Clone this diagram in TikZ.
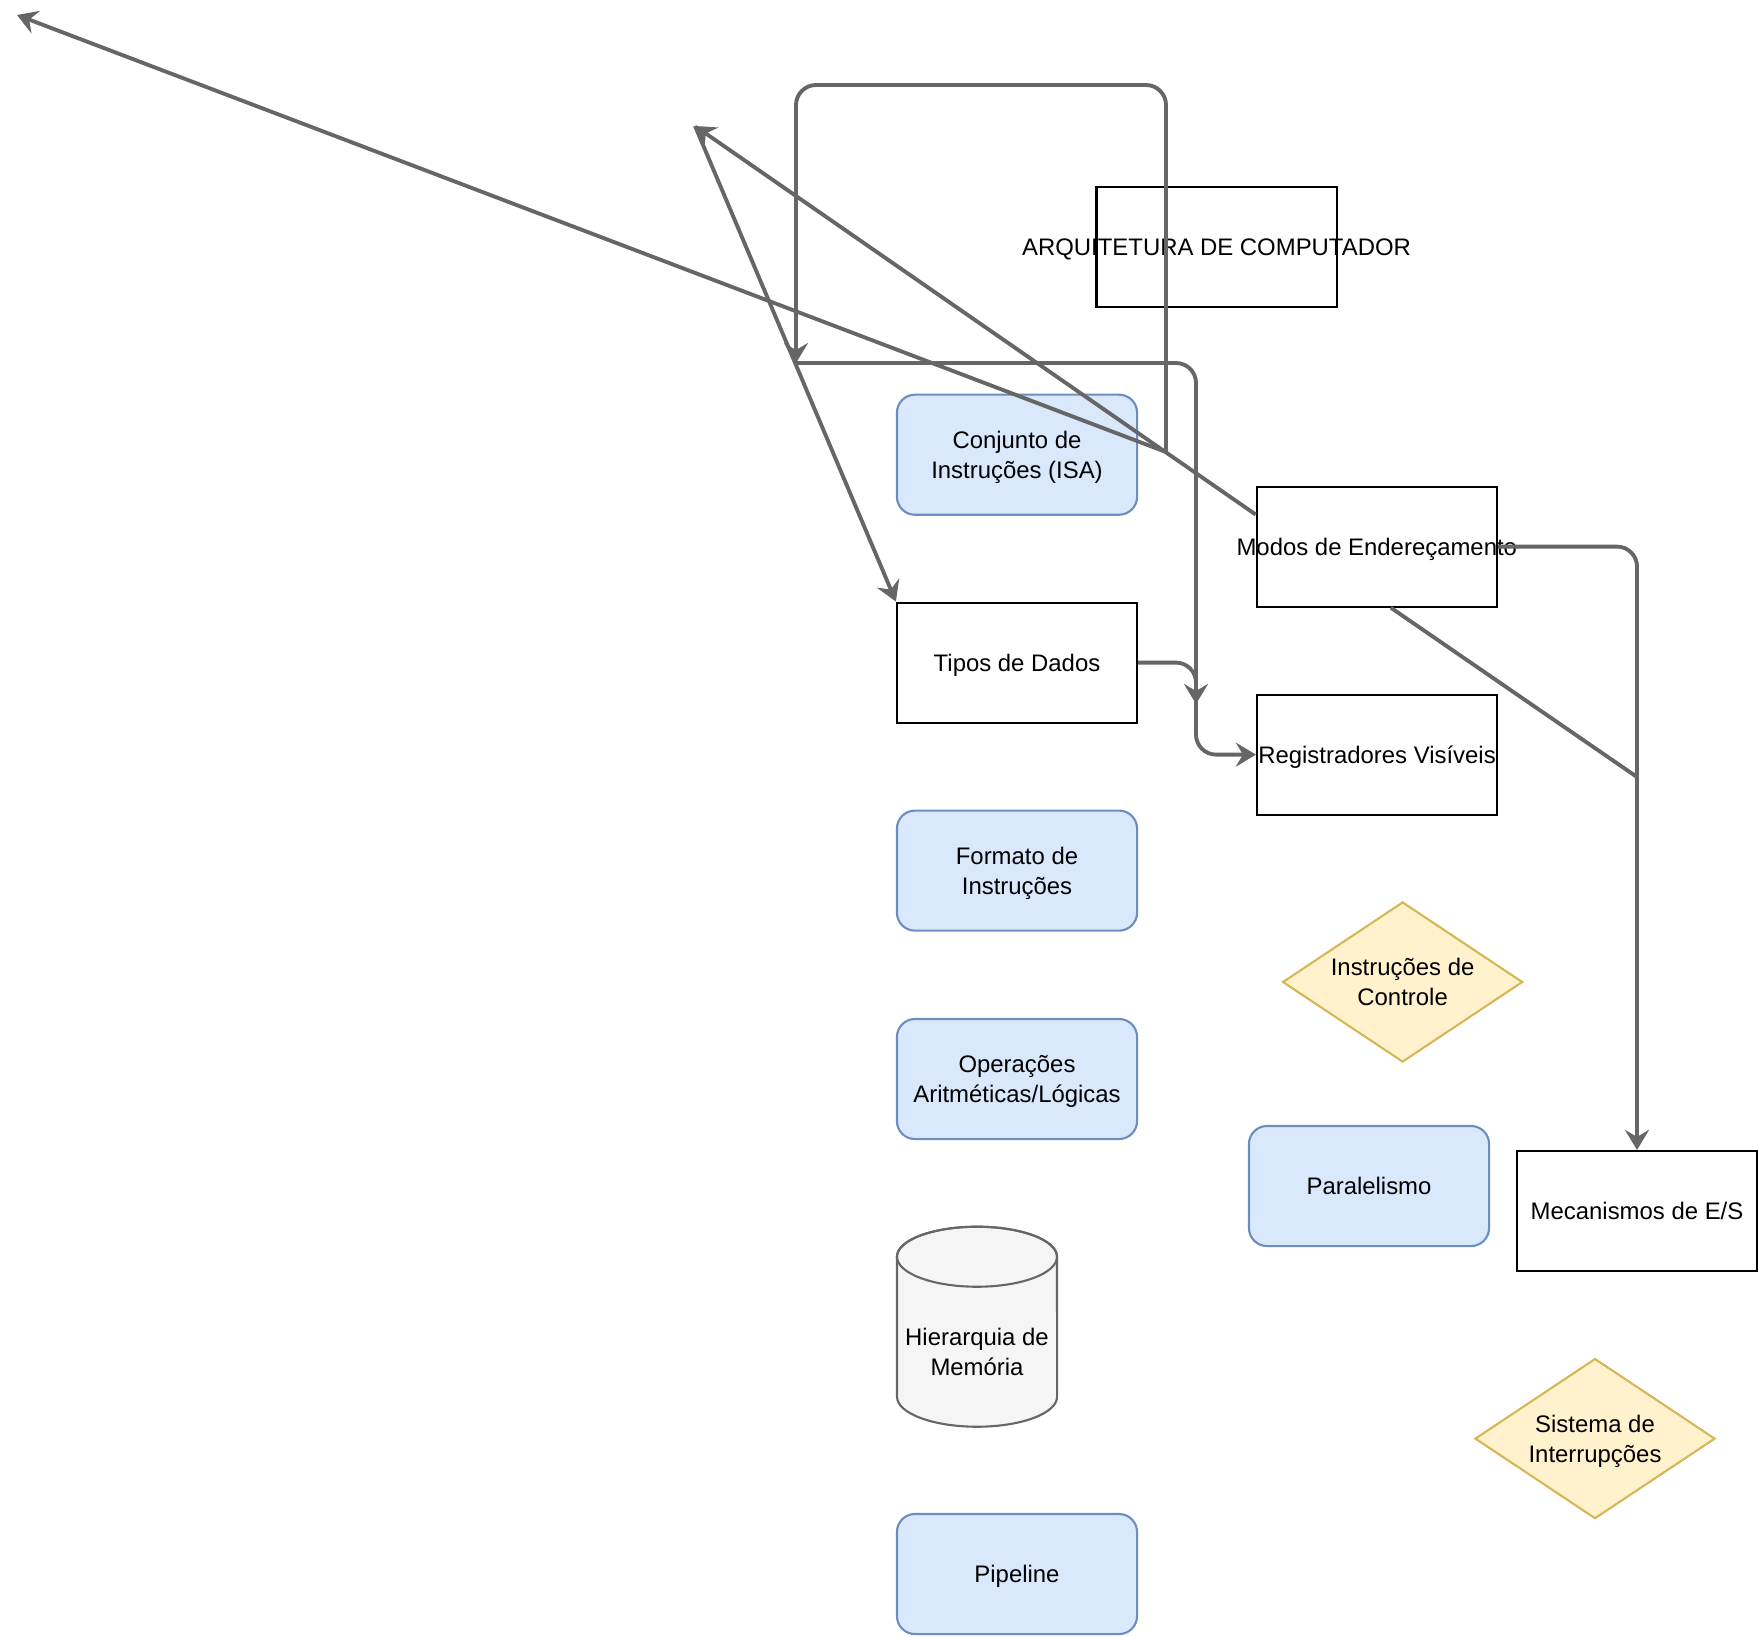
\documentclass[tikz,border=0pt]{standalone}
\usepackage{fontspec}
\setmainfont{Liberation Sans}
\usepackage{xcolor}
\usepackage{tikz}
\usetikzlibrary{shapes, shapes.geometric, arrows.meta, positioning}
\definecolor{azulfundo}{HTML}{DAE8FC}
\definecolor{azulborda}{HTML}{6C8EBF}
\definecolor{amarelofundo}{HTML}{FFF2CC}
\definecolor{amareloborda}{HTML}{D6B656}
\definecolor{cinzafundo}{HTML}{F5F5F5}
\definecolor{cinza}{HTML}{666666}

\begin{document}
\begin{tikzpicture}[x=0.01cm, y=-0.01cm,
        every node/.style={font=\fontsize{6.8}{8.4}\selectfont, align=center, inner sep=0pt, text depth=0pt},
        caixa/.style={draw=black, line width=0.6pt, minimum width=2.4cm, minimum height=1.2cm},
        azul/.style={draw=azulborda, fill=azulfundo, line width=0.6pt, rounded corners=0.18cm, minimum width=2.4cm, minimum height=1.2cm},
        losango/.style={diamond, aspect=1.5, draw=amareloborda, fill=amarelofundo, line width=0.6pt, minimum width=2.4cm, minimum height=1.6cm},
        seta/.style={draw=cinza, line width=1.1pt, rounded corners=0.2cm, -{Stealth[length=0.2cm, width=0.24cm, inset=0.07cm]}},
        linha/.style={draw=cinza, line width=1.1pt}]
        \useasboundingbox (0,0) rectangle (1758,1636);
        % Blocs
        \node[caixa, label={center:ARQUITETURA DE COMPUTADOR}] (arq) at (1216.5,246.7) {};
        \node[azul] (conjunto) at (1017,454.7) {Conjunto de\\Instruções (ISA)};
        \node[caixa] (tipos) at (1017,662.6) {Tipos de Dados};
        \node[caixa, label={center:Modos de Endereçamento}] (modos) at (1376.8,546.6) {};
        \node[caixa, label={center:Registradores Visíveis}] (reg) at (1377,754.6) {};
        \node[azul] (formato) at (1017,870.6) {Formato de\\Instruções};
        \node[losango] (controle) at (1402.6,982) {Instruções de\\Controle};
        \node[azul] (operacoes) at (1017,1079) {Operações\\Aritméticas/Lógicas};
        \node[azul] (paralelismo) at (1369,1186) {Paralelismo};
        \node[caixa] (mec) at (1637,1211) {Mecanismos de E/S};
        \node[losango] (interrup) at (1595,1438.6) {Sistema de\\Interrupções};
        \node[azul] (pipeline) at (1017,1574) {Pipeline};
        % Cylindre
        \draw[draw=cinza, fill=cinzafundo, line width=0.6pt] (897,1256.7) -- (897,1396.7)
            arc[start angle=180, end angle=360, x radius=0.8cm, y radius=0.3cm] -- (1057,1256.7)
            arc[start angle=0, end angle=180, x radius=0.8cm, y radius=0.3cm] -- cycle;
        \draw[draw=cinza, line width=0.6pt] (977,1256.7) ellipse[x radius=0.8cm, y radius=0.3cm];
        \node (memoria) at (977,1352) {Hierarquia de\\Memória};
        % Points libres
        \coordinate (J) at (1166,452);
        \coordinate (P1) at (17,15);
        \coordinate (P2) at (695,126);
        \coordinate (Q) at (796,363);
        \coordinate (R) at (1196,704);
        \coordinate (M) at (1637,777);
        % Connecteurs
        \draw[seta] (J) -- (P1);
        \draw[seta] (J) -- (1166,85) -- (796,85) -- (Q);
        \draw[seta] (Q) -- (1196,363) -- (R);
        \draw[seta] ([yshift=-0.29cm]modos.north west) -- (P2);
        \draw[seta] (P2) -- (tipos.north west);
        \draw[seta] (tipos.east) -- (1196,662.6) -- (1196,754.6) -- (reg.west);
        \draw[seta] (modos.east) -| (mec.north);
        \draw[linha] ([xshift=0.14cm]modos.south) -- (M);
\end{tikzpicture}
\end{document}
